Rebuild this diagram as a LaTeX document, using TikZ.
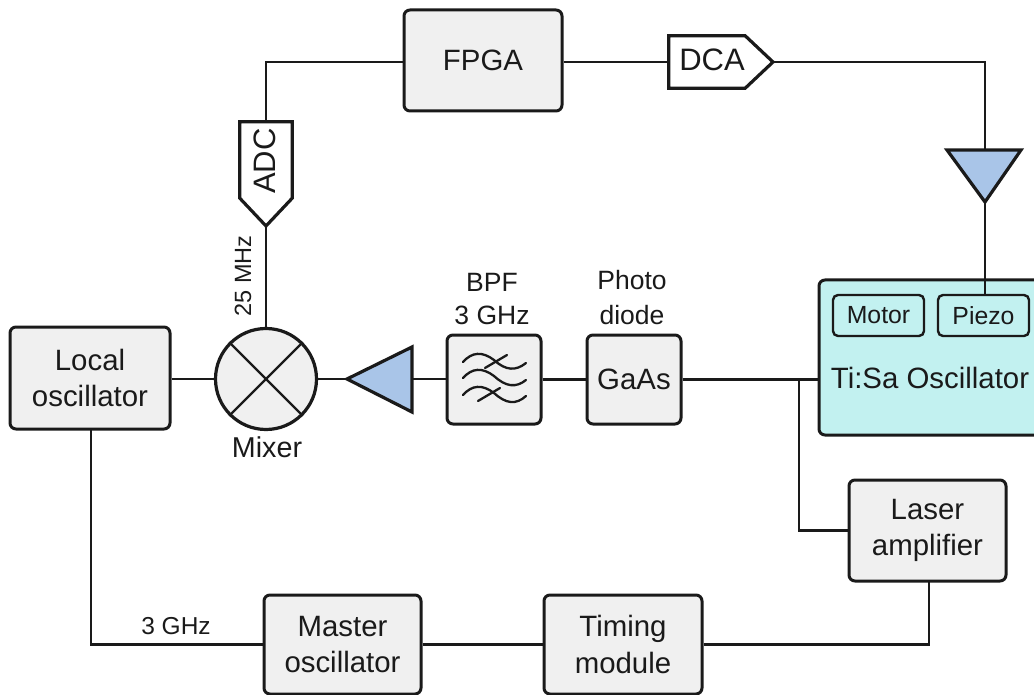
\documentclass[tikz,border=0pt]{standalone}
\usepackage{fontspec}
\setmainfont{Liberation Sans}
\newcommand{\fs}[2]{\fontsize{#1}{#2}\selectfont}
\definecolor{ink}{HTML}{1A1A1A}
\definecolor{boxfill}{HTML}{F0F0F0}
\definecolor{tealfill}{HTML}{C2F1F0}
\definecolor{ampfill}{HTML}{A9C5E8}
\tikzset{
  x=1pt,y=-1pt,
  boxbase/.style={draw=ink,line width=3pt,rounded corners=6pt,inner sep=0pt,align=center,text=ink},
  graybox/.style={boxbase,fill=boxfill,font=\fs{29.4}{36.5}},
  big/.style={graybox,minimum width=157pt,minimum height=100pt},
  small/.style={graybox,minimum width=94pt,minimum height=89pt},
  chip/.style={boxbase,line width=2.4pt,rounded corners=5pt,fill=tealfill,font=\fs{24.8}{28},minimum width=91pt,minimum height=41pt},
  label/.style={inner sep=0pt,align=center,text=ink},
  ghost/.style={inner sep=0pt,text=ink,font=\fs{31}{34}},
  wire/.style={draw=ink,line width=2.2pt},
  outline/.style={draw=ink,line width=3.2pt,miter limit=10,line join=miter},
  ampshape/.style={outline,fill=ampfill},
  pent/.style={outline,fill=white},
}
\begin{document}
\begin{tikzpicture}
\useasboundingbox (0,0) rectangle (1034,695);
\clip (0,0) rectangle (1034,695);
% nodes
\node[big,minimum width=158pt,minimum height=101pt] (fpga) at (483,60.5) {FPGA};
\node[big,minimum width=160pt,minimum height=102pt] (lo) at (90,378) {Local\\oscillator};
\node[big,minimum height=101pt] (laser) at (927.5,530.5) {Laser\\amplifier};
\node[big,minimum height=99pt] (master) at (342.5,644.5) {Master\\oscillator};
\node[big,minimum width=158pt,minimum height=99pt] (timing) at (623,644.5) {Timing\\module};
\node[small] (bpf) at (494,379.5) {};
\node[small] (gaas) at (634,379.5) {GaAs};
\node[boxbase,fill=tealfill,minimum width=225pt,minimum height=155pt] (tisa) at (931.5,357.5) {};
\node[label,font=\fs{29.4}{34}] (tisatext) at (930,378) {Ti:Sa Oscillator};
\node[chip] (motor) at (878.5,315.5) {Motor};
\node[chip] (piezo) at (983.5,315.5) {Piezo};
\node[circle,draw=ink,line width=3.2pt,fill=boxfill,minimum size=101pt,inner sep=0pt] (mixer) at (266,379) {};
\node[label,font=\fs{28.7}{34}] (mixertext) at (267,447) {Mixer};
\node[label,font=\fs{26.5}{33}] (bpftext) at (492,299) {BPF\\3 GHz};
\node[label,font=\fs{26.5}{35}] (phototext) at (632,298) {Photo\\diode};
\node[label,font=\fs{24.5}{26}] (ghz) at (176,626) {3 GHz};
\node[label,font=\fs{23.5}{26},rotate=90] (mhz) at (243,276) {25 MHz};
% converters: body node plus pointed end
\node[ghost,minimum width=76pt,minimum height=52pt] (dca) at (707,62) {};
\coordinate (dcatip) at (773,62);
\node[ghost,minimum width=52pt,minimum height=76pt] (adc) at (266,160) {};
\coordinate (adctip) at (266,226);
% amplifiers
\coordinate (amponetip) at (347,379);
\coordinate (amponebase) at (412,379);
\coordinate (amptwobase) at (985,150);
\coordinate (amptwotip) at (985,202);
\coordinate (jn) at (799,379);
\coordinate (topcorner) at (266,62);
\coordinate (lodrop) at (91,429);
\coordinate (laserdrop) at (929,581);
% connectors
\draw[wire] (lo.east |- mixer.west) -- (mixer.west);
\draw[wire] (mixer.east) -- (amponetip);
\draw[wire] (amponebase) -- (bpf.west |- amponebase);
\draw[wire] (bpf.east) -- (gaas.west);
\draw[wire] (gaas.east) -- (tisa.west |- gaas.east);
\draw[wire] (jn) |- (laser.west);
\draw[wire] (mixer.north) -- (adctip);
\draw[wire] (adc.north) -- (topcorner) -- (fpga.west |- topcorner);
\draw[wire] (fpga.east |- dca.west) -- (dca.west);
\draw[wire] (dcatip) -| (amptwobase);
\draw[wire] (amptwotip) -- (amptwotip |- piezo.north);
\draw[wire] (lodrop) |- (master.west);
\draw[wire] (master.east) -- (timing.west);
\draw[wire] (timing.east) -| (laserdrop);
% pointed shapes
\draw[pent] (dca.north west) -- (dca.north east) -- (dcatip) -- (dca.south east) -- (dca.south west) -- cycle;
\node[ghost] (dcalabel) at (712,60) {DCA};
\draw[pent] (adc.north west) -- (adc.north east) -- (adc.south east) -- (adctip) -- (adc.south west) -- cycle;
\node[ghost,rotate=90] (adclabel) at (265,161) {ADC};
\draw[ampshape] (amponetip) -- (412,347) -- (412,412) -- cycle;
\draw[ampshape] (947,150) -- (1021,150) -- (amptwotip) -- cycle;
% mixer cross
\draw[draw=ink,line width=2.2pt] (mixer.north west) -- (mixer.south east);
\draw[draw=ink,line width=2.2pt] (mixer.south west) -- (mixer.north east);
% band pass symbol
\begin{scope}[draw=ink,line width=2.3pt,line cap=round]
\draw (463,362) .. controls (472,352) and (482,351) .. (494,360) .. controls (506,371) and (516,371) .. (526,363);
\draw (463,378) .. controls (472,368) and (482,367) .. (494,376) .. controls (506,387) and (516,388) .. (526,380);
\draw (463,395) .. controls (472,385) and (482,384) .. (494,393) .. controls (506,404) and (516,405) .. (526,396);
\draw (485,368) -- (507,355);
\draw (478,401) -- (500,388);
\end{scope}
\end{tikzpicture}
\end{document}
